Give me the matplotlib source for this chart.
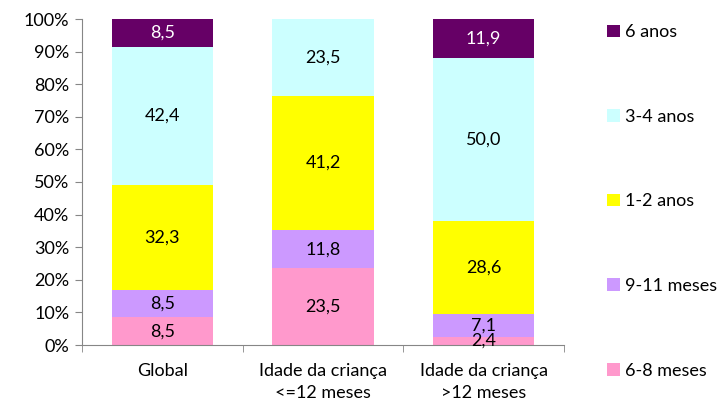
import numpy as np
import matplotlib.pyplot as plt
from matplotlib.ticker import PercentFormatter
from matplotlib.patches import Patch

plt.rcParams['font.family'] = ['Lato', 'DejaVu Sans']

categories = ["Global", "Idade da criança\n<=12 meses", "Idade da criança\n>12 meses"]
series_names = ["6-8 meses", "9-11 meses", "1-2 anos", "3-4 anos", "6 anos"]
v_6_8m = [8.5, 23.5, 2.4]
v_9_11m = [8.5, 11.8, 7.1]
v_1_2a = [32.3, 41.2, 28.6]
v_3_4a = [42.4, 23.5, 50.0]
v_6a = [8.5, 0.0, 11.9]
colors = ["#FF99CC", "#CC99FF", "#FFFF00", "#CCFFFF", "#660066"]
text_colors = ["black", "black", "black", "black", "white"]

data = np.array([v_6_8m, v_9_11m, v_1_2a, v_3_4a, v_6a])
shares = data / data.sum(axis=0) * 100  # 100% stacked

fig = plt.figure(figsize=(7.24, 4.07), dpi=100)
ax = fig.add_axes([82 / 724, 62 / 407, 482 / 724, 326 / 407])

x = np.arange(len(categories))
bottom = np.zeros(len(categories))
handles = []
for i, name in enumerate(series_names):
    ax.bar(x, shares[i], 0.63, bottom=bottom, color=colors[i], edgecolor="none")
    for j in range(len(categories)):
        if data[i, j] > 0:
            ax.text(x[j], bottom[j] + shares[i, j] / 2, f"{data[i, j]:.1f}".replace(".", ","),
                    ha="center", va="center", fontsize=13, color=text_colors[i])
    bottom += shares[i]
    handles.append(Patch(facecolor=colors[i], label=name))

ax.set_xlim(-0.5, 2.5)
ax.set_ylim(0, 100)
ax.set_yticks(np.arange(0, 101, 10))
ax.yaxis.set_major_formatter(PercentFormatter(decimals=0))
ax.set_xticks(x)
ax.set_xticklabels(categories, fontsize=13, linespacing=1.45)
ax.tick_params(axis="x", length=0, pad=13)
ax.set_xticks(np.arange(-0.5, 3, 1), minor=True)
ax.tick_params(axis="x", which="minor", length=5, color="#868686", direction="out")
ax.tick_params(axis="y", labelsize=13, length=5, color="#868686", direction="out", pad=4)
for s in ["top", "right"]:
    ax.spines[s].set_visible(False)
ax.spines["left"].set_color("#868686")
ax.spines["bottom"].set_color("#868686")

leg = fig.legend(handles[::-1], series_names[::-1], loc="upper left",
                 bbox_to_anchor=(600 / 724, 1 - 17 / 407), frameon=False,
                 fontsize=13, handlelength=0.7, handleheight=0.7,
                 handletextpad=0.3, labelspacing=3.8, borderaxespad=0)

fig.savefig("out.png", dpi=100)
